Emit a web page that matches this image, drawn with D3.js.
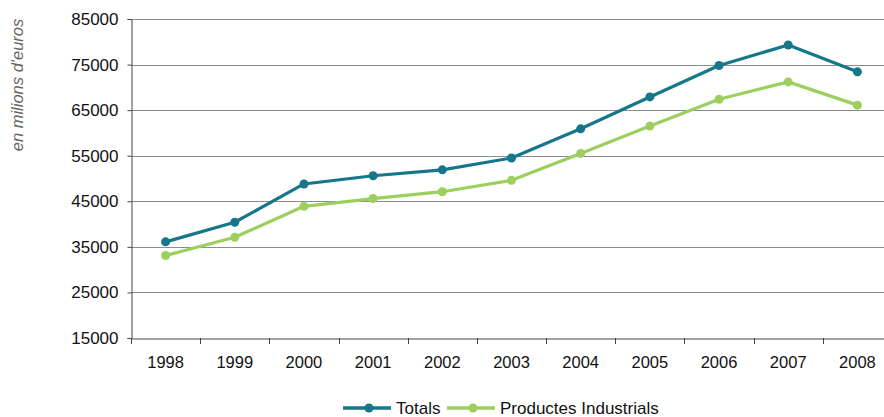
<!DOCTYPE html>
<html><head><meta charset="utf-8">
<script src="https://cdn.jsdelivr.net/npm/d3@7"></script>
<style>
html,body{margin:0;padding:0;background:#fff;}
svg text{font-family:"Liberation Sans",Arial,Helvetica,sans-serif;}
</style></head>
<body><svg id="c" width="884" height="417"></svg>
<script>
const years = ["1998","1999","2000","2001","2002","2003","2004","2005","2006","2007","2008"];
const totals = [36100, 40400, 48800, 50600, 51900, 54500, 60900, 67900, 74800, 79300, 73400];
const industrials = [33100, 37100, 43900, 45600, 47100, 49600, 55500, 61500, 67400, 71200, 66100];
const yTicks = [15000, 25000, 35000, 45000, 55000, 65000, 75000, 85000];
const seriesNames = ["Totals", "Productes Industrials"];
const colors = ["#17778a", "#9ccf5e"];

(function () {
const svg = d3.select("#c");
const mLeft = 131, mTop = 19, mBottom = 338, mRight = 892;
const x = d3.scaleBand().domain(years).range([mLeft, mRight]);
const y = d3.scaleLinear().domain([15000, 85000]).range([mBottom, mTop]);

// gridlines
svg.append("g").selectAll("line").data(yTicks.filter(d => d > 15000)).join("line")
  .attr("x1", mLeft).attr("x2", 884)
  .attr("y1", d => Math.round(y(d)) + 0.5).attr("y2", d => Math.round(y(d)) + 0.5)
  .attr("stroke", "#8c8c8c").attr("stroke-width", 1);

// y axis
const ya = svg.append("g").attr("transform", `translate(${mLeft + 0.5},0)`)
  .call(d3.axisLeft(y).tickValues(yTicks).tickSize(4).tickPadding(9).tickFormat(d3.format("d")));
ya.select(".domain").attr("stroke", "#444");
ya.selectAll(".tick line").attr("stroke", "#444");
ya.selectAll(".tick text").attr("font-size", "17px").attr("fill", "#111")
  .attr("font-family", "'Liberation Sans',Arial,sans-serif");

// x axis
const xa = svg.append("g").attr("transform", `translate(0,${Math.round(mBottom) + 0.5})`)
  .call(d3.axisBottom(x).tickSize(0).tickPadding(18));
xa.select(".domain").attr("stroke", "#444");
xa.selectAll(".tick text").attr("font-size", "16.5px").attr("fill", "#111")
  .attr("font-family", "'Liberation Sans',Arial,sans-serif");
// boundary ticks
const bounds = years.map(d => x(d)).concat([x(years[years.length - 1]) + x.bandwidth()]);
svg.append("g").selectAll("line").data(bounds).join("line")
  .attr("x1", d => Math.round(d) + 0.5).attr("x2", d => Math.round(d) + 0.5)
  .attr("y1", mBottom).attr("y2", mBottom + 6)
  .attr("stroke", "#444");

// y title
svg.append("text")
  .attr("transform", "translate(23,85) rotate(-90)")
  .attr("text-anchor", "middle")
  .attr("font-size", "16.5px").attr("font-style", "italic").attr("fill", "#666")
  .text("en milions d'euros");

// series
const data = [totals, industrials];
const line = d3.line().x((d, i) => x(years[i]) + x.bandwidth() / 2).y(d => y(d));
[1, 0].forEach(k => {
  svg.append("path").datum(data[k]).attr("d", line)
    .attr("fill", "none").attr("stroke", colors[k]).attr("stroke-width", 3.2)
    .attr("stroke-linejoin", "round");
  svg.append("g").selectAll("circle").data(data[k]).join("circle")
    .attr("cx", (d, i) => x(years[i]) + x.bandwidth() / 2)
    .attr("cy", d => y(d)).attr("r", 4.5).attr("fill", colors[k]);
});

// legend
const legY = 408;
const legItems = [{x0: 343, tx: 396}, {x0: 447, tx: 500}];
legItems.forEach((it, k) => {
  svg.append("line").attr("x1", it.x0).attr("x2", it.x0 + 48)
    .attr("y1", legY).attr("y2", legY)
    .attr("stroke", colors[k]).attr("stroke-width", 3.5);
  svg.append("circle").attr("cx", it.x0 + 26).attr("cy", legY).attr("r", 4.5).attr("fill", colors[k]);
  svg.append("text").attr("x", it.tx).attr("y", legY + 6)
    .attr("font-size", "17px").attr("fill", "#111").text(seriesNames[k]);
});
})();
</script></body></html>
